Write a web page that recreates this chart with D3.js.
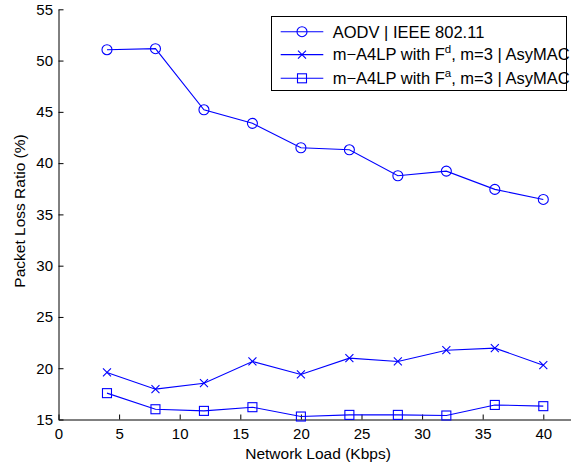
<!DOCTYPE html>
<html>
<head>
<meta charset="utf-8">
<script src="https://cdn.jsdelivr.net/npm/d3@7"></script>
<style>
  html, body { margin: 0; padding: 0; background: #fff; }
  svg { display: block; font-family: "Liberation Sans", Arial, Helvetica, sans-serif; }
</style>
</head>
<body>
<svg id="chart" width="571" height="465"></svg>
<script>
// Network load (Kbps)
const loads = [4, 8, 12, 16, 20, 24, 28, 32, 36, 40];
// Packet loss ratio (%) per protocol stack
const aodv = [51.06, 51.16, 45.2, 43.88, 41.5, 41.3, 38.77, 39.22, 37.44, 36.46];
const fd   = [19.59, 17.96, 18.54, 20.66, 19.39, 20.98, 20.66, 21.76, 21.96, 20.3];
const fa   = [17.57, 16.0, 15.84, 16.2, 15.29, 15.45, 15.45, 15.39, 16.42, 16.3];

const xTicks = [0, 5, 10, 15, 20, 25, 30, 35, 40];
const yTicks = [15, 20, 25, 30, 35, 40, 45, 50, 55];

const seriesNames = ["AODV | IEEE 802.11", "m\u2212A4LP with F", "m\u2212A4LP with F"];

const svg = d3.select("#chart");
const blue = "#0000ff";

const x = d3.scaleLinear().domain([0, 45]).range([58.5, 603.9]);
const y = d3.scaleLinear().domain([15, 55]).range([419.5, 9.3]);

// axes with inward ticks
const xAxis = d3.axisBottom(x).tickValues(xTicks).tickFormat(d3.format("d"))
  .tickSizeInner(-5).tickSizeOuter(0).tickPadding(8.5);
const yAxis = d3.axisLeft(y).tickValues(yTicks).tickFormat(d3.format("d"))
  .tickSizeInner(-5).tickSizeOuter(0).tickPadding(5.5);

const gx = svg.append("g").attr("transform", "translate(0,419.5)").call(xAxis);
const gy = svg.append("g").attr("transform", "translate(58.5,0)").call(yAxis);
[gx, gy].forEach(g => {
  g.selectAll("text").attr("font-size", "15px").attr("fill", "#000")
    .attr("font-family", "Liberation Sans, Arial, sans-serif");
  g.selectAll("line").attr("stroke", "#000");
  g.select(".domain").attr("stroke", "#000");
});

// axis titles
svg.append("text").attr("x", 318).attr("y", 458.5).attr("text-anchor", "middle")
  .attr("font-size", "15.5px").text("Network Load (Kbps)");
svg.append("text").attr("transform", "translate(24.5,211) rotate(-90)")
  .attr("text-anchor", "middle").attr("font-size", "15.5px").text("Packet Loss Ratio (%)");

// marker drawers
function circleMarker(g, cx, cy) {
  g.append("circle").attr("cx", cx).attr("cy", cy).attr("r", 5)
    .attr("fill", "none").attr("stroke", blue).attr("stroke-width", 1.1);
}
function crossMarker(g, cx, cy) {
  const s = 4;
  g.append("path").attr("d", `M${cx - s},${cy - s}L${cx + s},${cy + s}M${cx - s},${cy + s}L${cx + s},${cy - s}`)
    .attr("stroke", blue).attr("stroke-width", 1.1).attr("fill", "none");
}
function squareMarker(g, cx, cy) {
  const s = 4.5;
  g.append("rect").attr("x", cx - s).attr("y", cy - s).attr("width", 2 * s).attr("height", 2 * s)
    .attr("fill", "none").attr("stroke", blue).attr("stroke-width", 1.1);
}

const series = [
  { values: aodv, marker: circleMarker },
  { values: fd, marker: crossMarker },
  { values: fa, marker: squareMarker }
];

const line = d3.line().x((d, i) => x(loads[i])).y(d => y(d));

series.forEach(s => {
  const g = svg.append("g");
  g.append("path").datum(s.values).attr("d", line)
    .attr("fill", "none").attr("stroke", blue).attr("stroke-width", 1.1);
  s.values.forEach((v, i) => s.marker(g, x(loads[i]), y(v)));
});

// legend
const lg = svg.append("g");
lg.append("rect").attr("x", 271.5).attr("y", 16.5).attr("width", 295).attr("height", 74)
  .attr("fill", "#fff").attr("stroke", "#000").attr("stroke-width", 1);
const rowY = [31.7, 54.6, 78.3];
series.forEach((s, i) => {
  const yy = rowY[i];
  lg.append("line").attr("x1", 280.7).attr("x2", 323.3).attr("y1", yy).attr("y2", yy)
    .attr("stroke", blue).attr("stroke-width", 1.1);
  s.marker(lg, 302, yy);
  const t = lg.append("text").attr("x", 332.7).attr("y", yy + 5.8).attr("font-size", "16.5px");
  t.append("tspan").text(seriesNames[i]);
  if (i > 0) {
    t.append("tspan").attr("font-size", "11.5px").attr("dy", -7).text(i === 1 ? "d" : "a");
    t.append("tspan").attr("dy", 7).text(", m=3 | AsyMAC");
  }
});
</script>
</body>
</html>
